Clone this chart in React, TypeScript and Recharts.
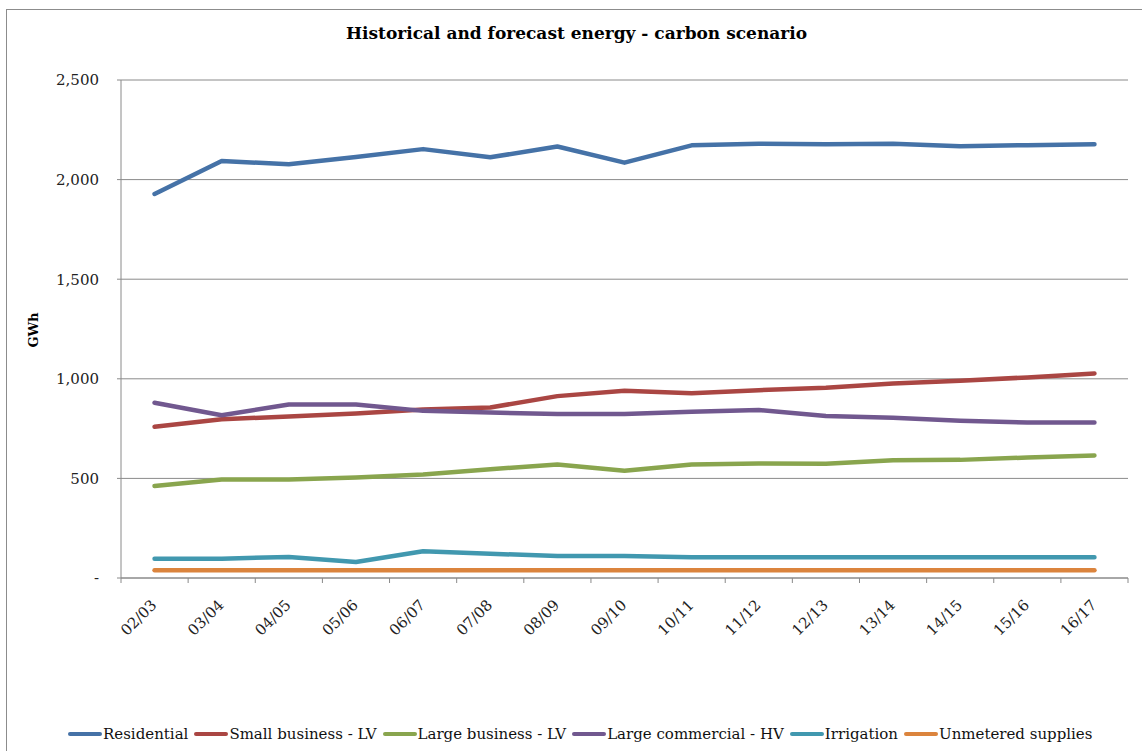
import { LineChart, Line, XAxis, YAxis, CartesianGrid, Legend } from "recharts";

const PERIODS = ["02/03", "03/04", "04/05", "05/06", "06/07", "07/08", "08/09", "09/10", "10/11", "11/12", "12/13", "13/14", "14/15", "15/16", "16/17"];

const RESIDENTIAL = [1928, 2093, 2077, 2113, 2153, 2112, 2166, 2085, 2172, 2180, 2177, 2180, 2168, 2173, 2178];
const SMALL_BUSINESS_LV = [759, 797, 811, 826, 846, 856, 913, 940, 927, 943, 955, 977, 990, 1007, 1027];
const LARGE_BUSINESS_LV = [462, 494, 494, 504, 520, 546, 570, 538, 570, 575, 573, 591, 593, 605, 615];
const LARGE_COMMERCIAL_HV = [880, 817, 871, 871, 839, 831, 823, 823, 834, 843, 813, 804, 789, 781, 781];
const IRRIGATION = [97, 97, 106, 80, 134, 122, 110, 110, 104, 104, 104, 104, 104, 104, 104];
const UNMETERED = [39, 39, 39, 39, 39, 39, 39, 39, 39, 39, 39, 39, 39, 39, 39];

const Y_TICKS = [0, 500, 1000, 1500, 2000, 2500];

const SERIES = [
  { key: "res", name: "Residential", color: "#4572A7", values: RESIDENTIAL },
  { key: "sml", name: "Small business - LV", color: "#AA4643", values: SMALL_BUSINESS_LV },
  { key: "lrg", name: "Large business - LV", color: "#89A54E", values: LARGE_BUSINESS_LV },
  { key: "com", name: "Large commercial - HV", color: "#71588F", values: LARGE_COMMERCIAL_HV },
  { key: "irr", name: "Irrigation", color: "#4198AF", values: IRRIGATION },
  { key: "unm", name: "Unmetered supplies", color: "#DB843D", values: UNMETERED },
];

const data = PERIODS.map((period, i) => {
  const row: Record<string, string | number> = { period };
  SERIES.forEach(s => { row[s.key] = s.values[i]; });
  return row;
});

const FONT = "'DejaVu Serif', serif";
const GRID = "#8a8a8a";
const HALF_BAND = 33.55;

// category labels sit in the band middle, tick marks on the band edges (Excel style)
function XTick(props: any) {
  const { x, y, payload, index } = props;
  const last = index === PERIODS.length - 1;
  const tx = x + 3;
  const ty = y + 28;
  return (
    <g>
      <line x1={x - HALF_BAND} x2={x - HALF_BAND} y1={y} y2={y + 5} stroke={GRID} />
      {last && <line x1={x + HALF_BAND} x2={x + HALF_BAND} y1={y} y2={y + 5} stroke={GRID} />}
      <text x={tx} y={ty} transform={`rotate(-45, ${tx}, ${ty})`} textAnchor="end" fontSize={15} fontFamily={FONT} fill="#222">
        {payload.value}
      </text>
    </g>
  );
}

function LegendContent() {
  return (
    <div style={{ display: "flex", alignItems: "center", paddingLeft: 68, fontFamily: FONT, fontSize: 15, color: "#111", height: 26 }}>
      {SERIES.map(s => (
        <div key={s.key} style={{ display: "flex", alignItems: "center", marginRight: 6 }}>
          <div style={{ width: 34, height: 4, borderRadius: 2, background: s.color, marginRight: 1 }} />
          <span style={{ whiteSpace: "pre" }}>{s.name}</span>
        </div>
      ))}
    </div>
  );
}

export default function App() {
  return (
    <div style={{ position: "absolute", left: 0, top: 0, width: 1142, height: 751, overflow: "hidden", background: "#fff" }}>
      <div style={{ position: "absolute", left: 6, top: 9, width: 1200, height: 800, border: "1px solid #8c8c8c" }} />
      <div style={{ position: "absolute", left: 0, width: 1153, top: 23, textAlign: "center", fontFamily: FONT, fontWeight: "bold", fontSize: 17, color: "#000" }}>
        Historical and forecast energy - carbon scenario
      </div>
      <div style={{ position: "absolute", left: 33, top: 330, transform: "translate(-50%, -50%) rotate(-90deg)", fontFamily: FONT, fontWeight: "bold", fontSize: 13, color: "#000" }}>
        GWh
      </div>
      <div style={{ position: "absolute", left: 0, top: 0 }}>
        <LineChart width={1142} height={751} data={data} margin={{ top: 80, right: 14, bottom: 4, left: 0 }}>
          <CartesianGrid vertical={false} stroke={GRID} />
          <XAxis
            dataKey="period"
            padding={{ left: HALF_BAND, right: HALF_BAND }}
            height={143}
            tickLine={false}
            tickSize={0}
            tickMargin={0}
            axisLine={{ stroke: GRID }}
            tick={<XTick />}
            interval={0}
          />
          <YAxis
            width={121}
            domain={[0, 2500]}
            ticks={Y_TICKS}
            tickSize={4}
            tickMargin={18}
            tickLine={{ stroke: GRID }}
            axisLine={{ stroke: GRID }}
            tickFormatter={(v: number) => (v === 0 ? "-" : v.toLocaleString("en-US"))}
            tick={{ fontSize: 15, fontFamily: FONT, fill: "#222" }}
          />
          <Legend verticalAlign="bottom" align="left" content={<LegendContent />} wrapperStyle={{ height: 26 }} />
          {SERIES.map(s => (
            <Line
              key={s.key}
              dataKey={s.key}
              name={s.name}
              stroke={s.color}
              strokeWidth={4.5}
              strokeLinecap="round"
              strokeLinejoin="round"
              dot={false}
              isAnimationActive={false}
            />
          ))}
        </LineChart>
      </div>
    </div>
  );
}
